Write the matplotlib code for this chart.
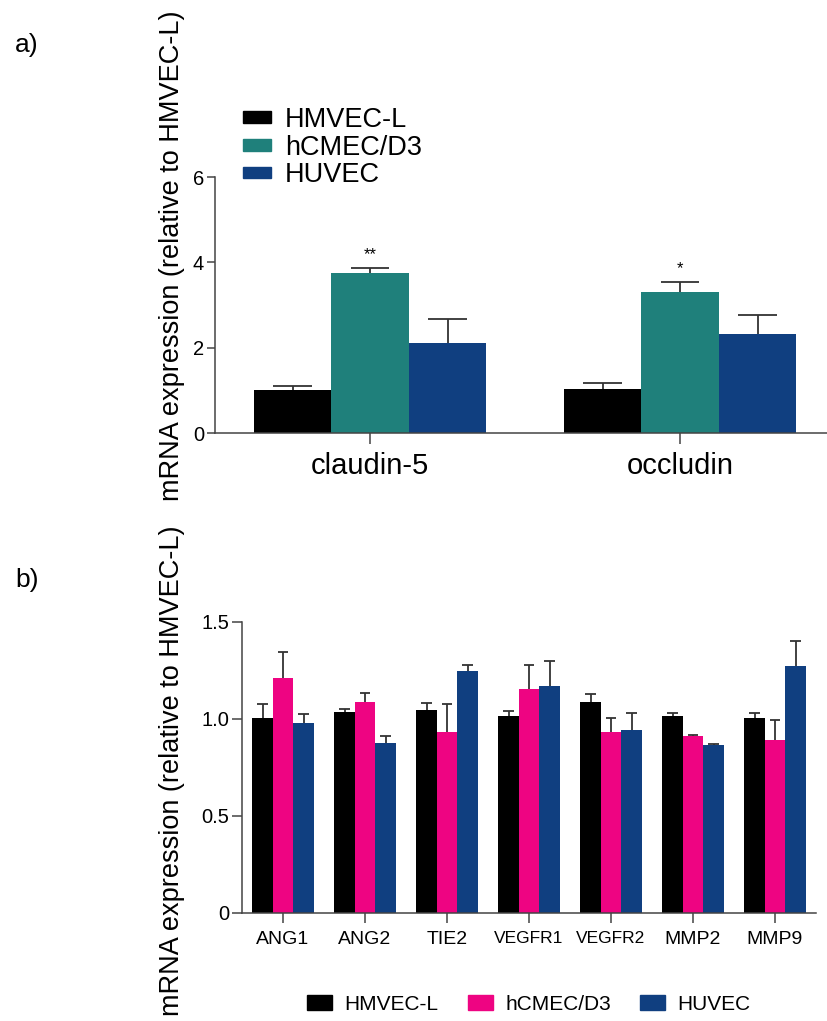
import numpy as np
import matplotlib.pyplot as plt
from matplotlib.patches import Patch

plt.rcParams['font.family'] = ['Liberation Sans', 'DejaVu Sans']

# panel a data
genes_a = ['claudin-5', 'occludin']
series_a = ['HMVEC-L', 'hCMEC/D3', 'HUVEC']
means_a = [[1.01, 1.04], [3.74, 3.30], [2.12, 2.33]]
errs_a = [[0.10, 0.13], [0.12, 0.23], [0.56, 0.43]]
stars_a = [['', ''], ['**', '*'], ['', '']]
colors_a = ['#000000', '#1f807b', '#103f80']

# panel b data
genes_b = ['ANG1', 'ANG2', 'TIE2', 'VEGFR1', 'VEGFR2', 'MMP2', 'MMP9']
series_b = ['HMVEC-L', 'hCMEC/D3', 'HUVEC']
means_b = [[1.003, 1.037, 1.044, 1.017, 1.089, 1.013, 1.005],
           [1.209, 1.089, 0.932, 1.156, 0.932, 0.910, 0.891],
           [0.979, 0.874, 1.249, 1.172, 0.944, 0.864, 1.271]]
errs_b = [[0.076, 0.016, 0.040, 0.022, 0.038, 0.016, 0.025],
          [0.135, 0.045, 0.145, 0.122, 0.071, 0.010, 0.103],
          [0.045, 0.036, 0.027, 0.127, 0.085, 0.008, 0.129]]
colors_b = ['#000000', '#ee0482', '#103f80']

ylabel = 'mRNA expression (relative to HMVEC-L)'

fig = plt.figure(figsize=(8.27, 10.21), dpi=100)


def style_axes(ax):
    for s in ['top', 'right']:
        ax.spines[s].set_visible(False)
    for s in ['left', 'bottom']:
        ax.spines[s].set_linewidth(1.1)
        ax.spines[s].set_color('#444444')


def upper_err(ax, xs, tops, errs, capw):
    # only the upper half of the error bar, like the original
    for xx, t, e in zip(xs, tops, errs):
        ax.vlines(xx, t, t + e, color='#333333', lw=1.3, zorder=1)
        ax.hlines(t + e, xx - capw / 2, xx + capw / 2, color='#333333', lw=1.3, zorder=1)


w = 0.25

# ---- panel a ----
ax1 = fig.add_axes([215 / 827, 0.5759, 2.0 * 310 / 827, 0.2507])
x = np.arange(len(genes_a))
for i in range(3):
    xs = x + (i - 1) * w
    ax1.bar(xs, means_a[i], w, color=colors_a[i], label=series_a[i], zorder=2)
    upper_err(ax1, xs, means_a[i], errs_a[i], w / 2)
    for j in range(len(xs)):
        if stars_a[i][j]:
            ax1.text(xs[j], means_a[i][j] + errs_a[i][j] + 0.33, stars_a[i][j],
                     ha='center', va='center', fontsize=12)
ax1.set_xlim(-0.5, 1.5)
ax1.set_ylim(0, 6)
ax1.set_yticks([0, 2, 4, 6])
ax1.set_xticks(x)
ax1.set_xticklabels(genes_a, fontsize=21)
ax1.tick_params(axis='y', labelsize=14.5, length=6, width=1.1, color='#444444', pad=2)
ax1.tick_params(axis='x', length=8, width=1.1, color='#444444', pad=6)
style_axes(ax1)
fig.legend(handles=[Patch(color=c, label=l) for c, l in zip(colors_a, series_a)],
           loc='upper left', bbox_to_anchor=(243 / 827, 1 - 107 / 1021), frameon=False,
           fontsize=19.5, borderpad=0, borderaxespad=0,
           handlelength=1.05, handleheight=0.3, labelspacing=0.06, handletextpad=0.5)

# ---- panel b ----
ax2 = fig.add_axes([242 / 827, 0.1058, 7.0 * 82 / 827, 0.285])
x = np.arange(len(genes_b))
for i in range(3):
    xs = x + (i - 1) * w
    ax2.bar(xs, means_b[i], w, color=colors_b[i], label=series_b[i], zorder=2)
    upper_err(ax2, xs, means_b[i], errs_b[i], 0.13)
ax2.set_xlim(-0.5, 6.5)
ax2.set_ylim(0, 1.5)
ax2.set_yticks([0, 0.5, 1.0, 1.5])
ax2.set_yticklabels(['0', '0.5', '1.0', '1.5'])
ax2.set_xticks(x)
ax2.set_xticklabels(genes_b, fontsize=14)
for lab in ax2.get_xticklabels():
    if lab.get_text().startswith('VEGFR'):
        lab.set_fontsize(12.5)
ax2.tick_params(axis='y', labelsize=14.5, length=7, width=1.1, color='#444444', pad=2)
ax2.tick_params(axis='x', length=7, width=1.1, color='#444444', pad=6)
style_axes(ax2)
fig.legend(handles=[Patch(color=c, label=l) for c, l in zip(colors_b, series_b)],
           loc='center left', bbox_to_anchor=(307 / 827, 1 - 1004 / 1021), ncol=3,
           frameon=False, fontsize=15, borderpad=0, borderaxespad=0,
           handlelength=1.2, handleheight=0.7, columnspacing=1.4, handletextpad=0.6)

# labels
fig.text(172 / 827, 1 - 256 / 1021, ylabel, rotation=90, ha='center', va='center', fontsize=19.5)
fig.text(172 / 827, 1 - 771 / 1021, ylabel, rotation=90, ha='center', va='center', fontsize=19.5)
fig.text(0.018, 1 - 45 / 1021, 'a)', fontsize=19, va='center')
fig.text(0.018, 1 - 580 / 1021, 'b)', fontsize=19, va='center')

fig.savefig('out.png', dpi=100)
